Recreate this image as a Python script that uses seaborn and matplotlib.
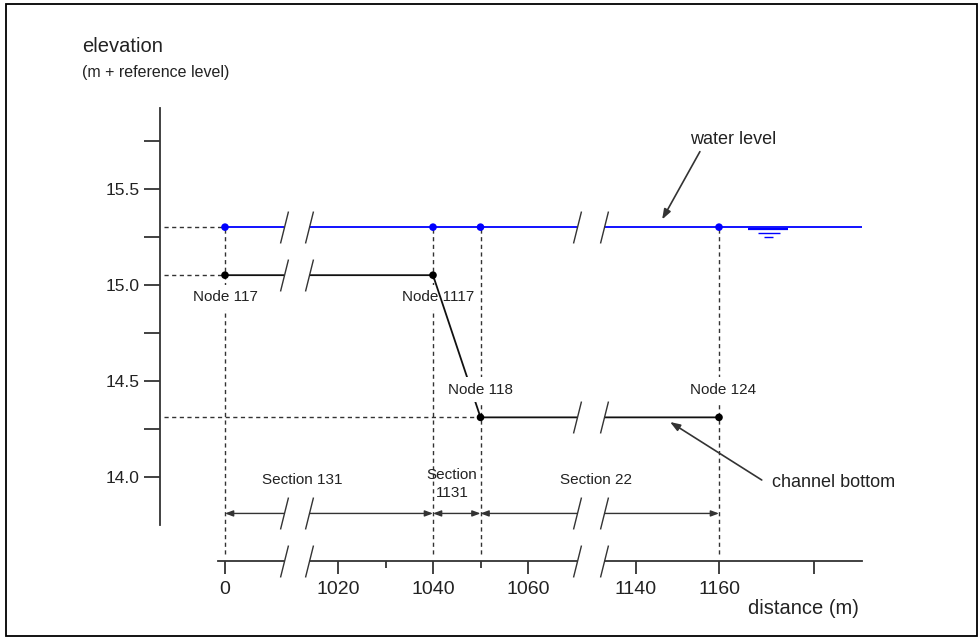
import numpy as np
import pandas as pd
import seaborn as sns
import matplotlib.pyplot as plt
from matplotlib.path import Path
from matplotlib.patches import Rectangle

# node data (distance in m, levels in m + reference level)
nodes = ['Node 117', 'Node 1117', 'Node 118', 'Node 124']
distance = [0, 1040, 1050, 1160]
water_level = [15.30, 15.30, 15.30, 15.30]
bed_level = [15.05, 15.05, 14.31, 14.31]
sections = ['Section 131', 'Section\n1131', 'Section 22']
water_end = 1190

x_ticks = [0, 1020, 1040, 1060, 1140, 1160, 1180]
x_tick_labels = ['0', '1020', '1040', '1060', '1140', '1160', '']
x_minor = [1030, 1050]
y_ticks = [14.0, 14.5, 15.0, 15.5]
y_minor = [14.25, 14.75, 15.25, 15.75]

# broken axis: distance -> drawing units
knot_d = [-600, 0, 1020, 1040, 1060, 1140, 1160, 1180, 1190]
knot_u = [0, 65, 178, 273, 368, 476, 559, 654, 702]
breaks = [(530, 760), (1096, 1116)]

INK = '#333333'
TXT = '#222222'

sns.set_theme(style='ticks')
plt.rcParams['font.family'] = ['Liberation Sans', 'DejaVu Sans']

fig = plt.figure(figsize=(9.8, 6.39), dpi=100)
ax = fig.add_axes([160 / 980, 78 / 639, 702 / 980, 453 / 639])
ax.set_xscale('function', functions=(lambda d: np.interp(d, knot_d, knot_u),
                                     lambda u: np.interp(u, knot_u, knot_d)))
ax.set_xlim(-600, water_end)
ax.set_ylim(13.5625, 15.92)

y_dim = 13.81      # dimension line
y_drop = 13.60     # end of vertical guides
x_guide = -560     # start of horizontal guides

df = pd.DataFrame({'node': nodes, 'distance': distance,
                   'water': water_level, 'bed': bed_level})

# guide lines
dash = dict(color=INK, lw=1, ls=(0, (3, 2.5)), zorder=1)
ax.vlines(df['distance'], y_drop, df['water'], **dash)
ax.hlines([water_level[0], bed_level[0]], x_guide, distance[0], **dash)
ax.hlines(bed_level[2], x_guide, distance[2], **dash)

# water level and channel bottom
sns.lineplot(x=distance + [water_end], y=water_level + [water_level[-1]],
             color='#0000ff', lw=1.3, sort=False, estimator=None, ax=ax, zorder=3)
sns.lineplot(data=df, x='distance', y='bed', color='#111111', lw=1.3,
             sort=False, estimator=None, ax=ax, zorder=3)
sns.scatterplot(data=df, x='distance', y='water', color='#0000ff', s=30,
                edgecolor='none', ax=ax, zorder=4)
sns.scatterplot(data=df, x='distance', y='bed', color='black', s=30,
                edgecolor='none', ax=ax, zorder=4)

# node labels
offsets = [(0, -16), (4, -16), (0, 20), (3, 20)]
for i, row in df.iterrows():
    ax.annotate(row['node'], (row['distance'], row['bed']), xytext=offsets[i],
                textcoords='offset points', ha='center', va='center',
                fontsize=11, color=TXT, zorder=5 if i == 2 else 2,
                bbox=dict(fc='white', ec='none', pad=4))

# section dimension arrows
sec_x = [695, 1044, 1110]
sec_y = [13.984, 13.962, 13.984]
for i, name in enumerate(sections):
    ax.annotate('', xy=(distance[i + 1], y_dim), xytext=(distance[i], y_dim),
                arrowprops=dict(arrowstyle='<|-|>,head_length=0.4,head_width=0.15',
                                color=INK, lw=1, shrinkA=0, shrinkB=0))
    ax.text(sec_x[i], sec_y[i], name, ha='center', va='center', fontsize=11,
            color=TXT, linespacing=1.4)

# break marks
slash = Path([(-0.25, -1), (0.25, 1)], [Path.MOVETO, Path.LINETO])
spans = [(distance[0], water_end, water_level[0]),
         (distance[0], distance[1], bed_level[0]),
         (distance[2], distance[3], bed_level[2]),
         (distance[0], distance[1], y_dim),
         (distance[2], distance[3], y_dim),
         (-64, water_end, 13.5625)]
for x0, x1, yy in spans:
    for b0, b1 in breaks:
        if x0 < b0 and b1 < x1:
            ax.plot([b0, b1], [yy, yy], color='white', lw=4, zorder=6,
                    clip_on=False, solid_capstyle='butt')
            ax.plot([b0, b1], [yy, yy], ls='none', marker=slash, ms=23,
                    mew=1, mec=INK, zorder=7, clip_on=False)

# water surface symbol
ax.hlines([15.292, 15.271, 15.25], [1166.1, 1168.2, 1169.5],
          [1174.5, 1172.8, 1171.4], color='#0000ff', lw=[1.6, 1, 1], zorder=3)

# annotations
arrow = dict(arrowstyle='-|>,head_length=0.5,head_width=0.18', color=INK,
             lw=1.2, shrinkA=0, shrinkB=0)
ax.annotate('', xy=(1146.3, 15.34), xytext=(1155.4, 15.693), arrowprops=arrow)
ax.text(1163, 15.755, 'water level', ha='center', va='center', fontsize=13, color=TXT)
ax.annotate('', xy=(1148.2, 14.286), xytext=(1169, 13.984), arrowprops=arrow)
ax.text(1171.2, 13.97, 'channel bottom', ha='left', va='center', fontsize=13,
        color=TXT, clip_on=False)

# axes styling
ax.set_xticks(x_ticks)
ax.set_xticklabels(x_tick_labels)
ax.set_xticks(x_minor, minor=True)
ax.set_yticks(y_ticks)
ax.set_yticklabels([f'{v:.1f}' for v in y_ticks])
ax.set_yticks(y_minor, minor=True)
ax.set_xlabel('')
ax.set_ylabel('')
sns.despine(ax=ax)
ax.spines['left'].set_bounds(13.75, 15.92)
ax.spines['bottom'].set_bounds(-64, water_end)
for s in ['left', 'bottom']:
    ax.spines[s].set_color(INK)
    ax.spines[s].set_linewidth(1.3)
ax.tick_params(axis='y', which='both', length=11.5, width=1.3, color=INK,
               labelsize=12.5, labelcolor=TXT, pad=3)
ax.tick_params(axis='x', which='major', length=9.4, width=1.3, color=INK,
               labelsize=14, labelcolor=TXT, pad=5)
ax.tick_params(axis='x', which='minor', length=5, width=1.3, color=INK)

fig.text(82 / 980, 1 - 47 / 639, 'elevation', fontsize=14.5, color=TXT,
         ha='left', va='center')
fig.text(82 / 980, 1 - 72 / 639, '(m + reference level)', fontsize=11.5,
         color=TXT, ha='left', va='center')
fig.text(748 / 980, 1 - 608 / 639, 'distance (m)', fontsize=14.5, color=TXT,
         ha='left', va='center')

fig.add_artist(Rectangle((6 / 980, 3 / 639), 971 / 980, 632 / 639,
                         transform=fig.transFigure, fill=False, ec='black', lw=1.3))

plt.savefig('out.png', dpi=100)
